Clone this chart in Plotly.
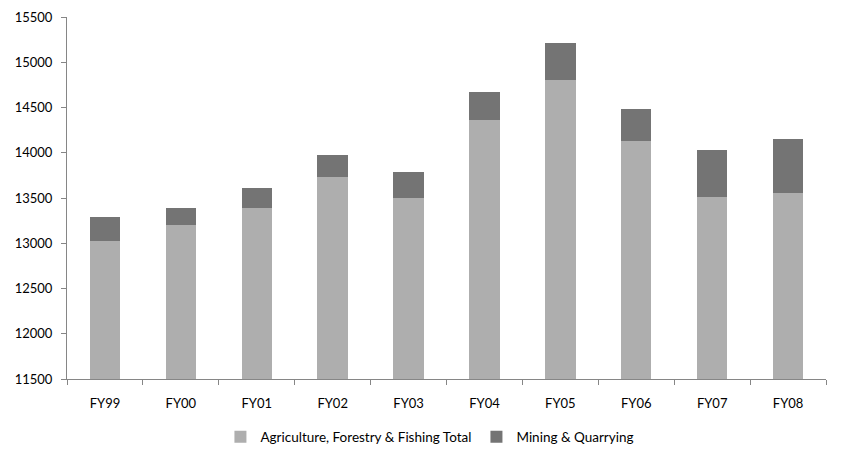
import plotly.graph_objects as go

years = ["FY99", "FY00", "FY01", "FY02", "FY03", "FY04", "FY05", "FY06", "FY07", "FY08"]
agriculture = [13030, 13205, 13395, 13730, 13495, 14365, 14800, 14135, 13510, 13560]
mining = [260, 185, 215, 245, 295, 305, 415, 350, 520, 595]

font_name = "Lato, Open Sans, sans-serif"

fig = go.Figure()

fig.add_trace(go.Bar(x = years, y = agriculture, name = "Agriculture, Forestry & Fishing Total",
                     marker_color = "#AEAEAE", marker_line_width = 0))
fig.add_trace(go.Bar(x = years, y = mining, name = "Mining & Quarrying",
                     marker_color = "#747474", marker_line_width = 0))

fig.update_layout(
    barmode = "stack",
    bargap = 0.6,
    width = 843,
    height = 460,
    margin = dict(l = 67, r = 17, t = 17, b = 81),
    plot_bgcolor = "white",
    paper_bgcolor = "white",
    font = dict(family = font_name, size = 13, color = "black"),
    legend = dict(orientation = "h", xref = "container", x = 0.51, xanchor = "center",
                  yref = "container", y = 0.05, yanchor = "middle",
                  font = dict(size = 13.5), itemwidth = 30, traceorder = "normal"),
)

fig.update_xaxes(
    range = [-0.5, 9.5],
    automargin = False,
    showline = True, linecolor = "#868686", linewidth = 1,
    ticks = "outside", tickson = "boundaries", ticklen = 5, tickcolor = "#868686",
    ticklabelstandoff = 12,
    showgrid = False,
)
fig.update_yaxes(
    range = [11500, 15500],
    dtick = 500,
    tickformat = "d",
    automargin = False,
    showline = True, linecolor = "#868686", linewidth = 1,
    ticks = "outside", ticklen = 5, tickcolor = "#868686",
    ticklabelstandoff = 6,
    showgrid = False, zeroline = False,
)

fig.write_html("out.html", config = {"displayModeBar": False},
               post_script = "document.body.style.margin = '0px';")
